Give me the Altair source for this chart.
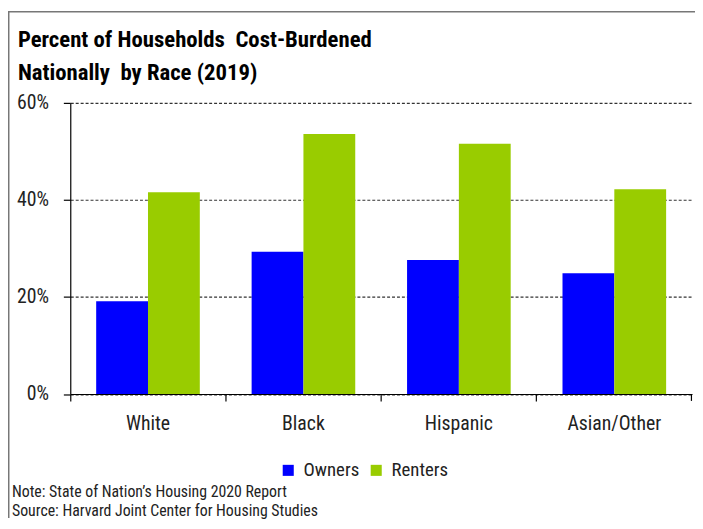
import altair as alt
import pandas as pd

races = ["White", "Black", "Hispanic", "Asian/Other"]
owners = [19.1, 29.3, 27.6, 24.9]
renters = [41.6, 53.6, 51.6, 42.2]
tenure = ["Owners", "Renters"]
y_ticks = [0, 20, 40, 60]
title_lines = ["Percent of Households \u00a0Cost-Burdened", "Nationally \u00a0by Race (2019)"]
note_lines = ["Note: State of Nation\u2019s Housing 2020 Report",
              "Source: Harvard Joint Center for Housing Studies"]

rows = []
for r, o, re in zip(races, owners, renters):
    rows.append({"race": r, "tenure": "Owners", "pct": o})
    rows.append({"race": r, "tenure": "Renters", "pct": re})
df = pd.DataFrame(rows)

FONT = "Roboto Condensed"
W, H = 629, 294.5
TXT = "#222"

bars = alt.Chart(df).mark_bar().encode(
    x=alt.X("race:N", sort=races, title=None,
            scale=alt.Scale(paddingInner=0, paddingOuter=0),
            axis=alt.Axis(bandPosition=0, labelAngle=0, labelFontSize=20, labelFont=FONT,
                          labelColor=TXT, domainColor="#000", tickColor="#000",
                          tickSize=7, labelPadding=13, domainWidth=1.2, tickWidth=1.2)),
    xOffset=alt.XOffset("tenure:N", sort=tenure, scale=alt.Scale(paddingInner=0, paddingOuter=0.5)),
    y=alt.Y("pct:Q", title=None, scale=alt.Scale(domain=[0, 60], nice=False),
            axis=alt.Axis(values=y_ticks, labelExpr="datum.value + '%'", labelFontSize=20,
                          labelFont=FONT, labelColor=TXT, domainColor="#000", tickColor="#000",
                          tickSize=7, labelPadding=15, grid=True, gridDash=[3, 2],
                          gridColor="#333", gridWidth=1.2, domainWidth=1.2, tickWidth=1.2)),
    color=alt.Color("tenure:N", sort=tenure,
                    scale=alt.Scale(domain=tenure, range=["#0000FF", "#99CC00"]),
                    legend=alt.Legend(title=None, orient="none", legendX=211, legendY=362,
                                      direction="horizontal", symbolType="square",
                                      symbolSize=125, symbolStrokeWidth=0, labelFontSize=19,
                                      labelFont=FONT, labelColor=TXT, columnPadding=7,
                                      labelOffset=6)),
)

end_tick = alt.Chart(pd.DataFrame({"a": [0]})).mark_rule(color="#000", strokeWidth=1.2).encode(
    x=alt.value(W - 0.6), y=alt.value(H), y2=alt.value(H + 7))

title1 = alt.Chart(pd.DataFrame({"t": [title_lines[0]]})).mark_text(
    align="left", baseline="alphabetic", fontSize=23, font=FONT, fontWeight="bold",
    color="#000").encode(text="t:N", x=alt.value(-53), y=alt.value(-57))
title2 = alt.Chart(pd.DataFrame({"t": [title_lines[1]]})).mark_text(
    align="left", baseline="alphabetic", fontSize=23, font=FONT, fontWeight="bold",
    color="#000").encode(text="t:N", x=alt.value(-53), y=alt.value(-23.5))

note1 = alt.Chart(pd.DataFrame({"t": [note_lines[0]]})).mark_text(
    align="left", baseline="alphabetic", fontSize=16, font=FONT, color=TXT).encode(
    text="t:N", x=alt.value(-59), y=alt.value(398.5))
note2 = alt.Chart(pd.DataFrame({"t": [note_lines[1]]})).mark_text(
    align="left", baseline="alphabetic", fontSize=16, font=FONT, color=TXT).encode(
    text="t:N", x=alt.value(-59), y=alt.value(417.5))

frame_left = alt.Chart(pd.DataFrame({"a": [0]})).mark_rule(color="#777", strokeWidth=1.5).encode(
    x=alt.value(-62.25), y=alt.value(-93), y2=alt.value(420))
frame_top = alt.Chart(pd.DataFrame({"a": [0]})).mark_rule(color="#777", strokeWidth=1.5).encode(
    x=alt.value(-63), x2=alt.value(632), y=alt.value(-92.25))

chart = alt.layer(bars, end_tick, title1, title2, note1, note2, frame_left, frame_top).properties(
    width=W, height=H,
    autosize=alt.AutoSizeParams(type="none"),
    padding={"left": 63, "top": 93, "right": 3, "bottom": 125.5},
).configure_view(stroke=None)

chart.save("out.html", embed_options={"renderer": "svg", "actions": False})
